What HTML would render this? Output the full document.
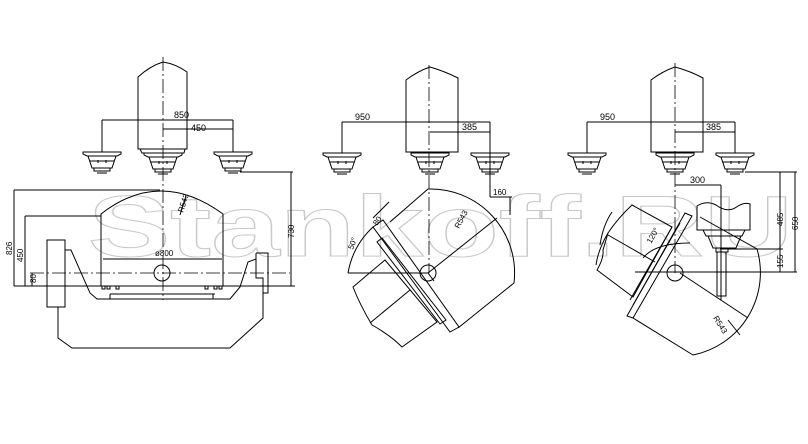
<!DOCTYPE html>
<html><head><meta charset="utf-8"><style>
html,body{margin:0;padding:0;background:#fff;}
svg{display:block;}
text{font-family:"Liberation Sans",sans-serif;font-size:9px;fill:#000;}
</style></head><body>
<svg width="808" height="444" viewBox="0 0 808 444" xmlns="http://www.w3.org/2000/svg">
<defs>
<g id="tool" fill="none" stroke="#000" stroke-width="1">
<polygon points="-19,0 19,0 19,2 15,4 -15,4 -19,2"/>
<polygon points="-14,4 14,4 10,16 -10,16"/>
<line x1="-12" y1="9" x2="12" y2="9"/>
<line x1="-4" y1="8" x2="-4" y2="11"/><line x1="4" y1="8" x2="4" y2="11"/>
<rect x="-8" y="16" width="16" height="3"/>
<line x1="-5" y1="21" x2="5" y2="21"/>
</g>
</defs>

<text x="88" y="256" textLength="705" lengthAdjust="spacingAndGlyphs" style="font-size:86px;font-weight:bold;fill:none;stroke:#c8c8c8;stroke-width:1">Stankoff.RU</text>

<g fill="none" stroke="#000" stroke-width="1">
<!-- ===== Panel 1 ===== -->
<path d="M138,149 L138,77 Q150,66 163,62 Q176,64 187,72 L187,149 Z"/>
<polygon points="140,149 185,149 184,153 142,153"/>
<use href="#tool" x="102" y="152"/>
<use href="#tool" x="163" y="153"/>
<use href="#tool" x="233" y="152"/>
<line x1="163" y1="57" x2="163" y2="300" stroke-dasharray="14,3,2,3" stroke-width="0.8"/>
<line x1="102" y1="120" x2="102" y2="152"/><line x1="233" y1="120" x2="233" y2="152"/>
<line x1="102" y1="120" x2="233" y2="120"/>
<line x1="163" y1="129" x2="233" y2="129"/>
<path d="M101,286 L101,214 Q160,168 223,214 L223,286"/>
<line x1="103" y1="259" x2="222" y2="259"/>
<circle cx="162" cy="273" r="8"/>
<line x1="30" y1="273" x2="290" y2="273" stroke-dasharray="14,3,2,3" stroke-width="0.8"/>
<line x1="14" y1="286" x2="295" y2="286"/>
<polyline points="65,250 71,250 90,293 97,299 230,299 240,287 248,262 256,259"/>
<line x1="110" y1="294" x2="215" y2="294"/><line x1="110" y1="294" x2="110" y2="299"/><line x1="213" y1="294" x2="213" y2="299"/>
<rect x="47" y="240" width="18" height="67"/>
<polyline points="58,307 58,338 72,348 230,348 263,318 263,293"/>
<polyline points="256,253 268,253 268,293 263,293 263,278 256,278 256,253"/>
<rect x="102" y="286" width="3" height="3"/><rect x="107" y="286" width="3" height="3"/><rect x="116" y="286" width="3" height="3"/>
<rect x="205" y="286" width="3" height="3"/><rect x="214" y="286" width="3" height="3"/><rect x="219" y="286" width="3" height="3"/>
<line x1="180" y1="215" x2="186" y2="196"/>
<line x1="14" y1="190" x2="160" y2="190"/><line x1="14" y1="190" x2="14" y2="286"/>
<line x1="25" y1="216" x2="101" y2="216"/><line x1="25" y1="216" x2="25" y2="286"/>
<line x1="32" y1="273" x2="32" y2="286"/>
<line x1="240" y1="172" x2="293" y2="172"/><line x1="291" y1="172" x2="291" y2="286"/>

<!-- ===== Panel 2 ===== -->
<path d="M406,152 L406,80 Q418,71 430,67 Q444,71 458,78 L458,152 Z"/>
<use href="#tool" x="342" y="153"/>
<use href="#tool" x="430" y="153"/>
<use href="#tool" x="490" y="153"/>
<line x1="429" y1="65" x2="429" y2="273" stroke-dasharray="14,3,2,3" stroke-width="0.8"/>
<line x1="342" y1="122" x2="342" y2="153"/><line x1="490" y1="122" x2="490" y2="153"/>
<line x1="342" y1="122" x2="490" y2="122"/>
<line x1="430" y1="132" x2="490" y2="132"/>
<path d="M428,189 A84,84 0 0 1 514,283 L458,328"/>
<path d="M348,273 A82,82 0 0 1 373,227"/>
<line x1="428" y1="189" x2="390" y2="222"/>
<line x1="348" y1="273" x2="428" y2="273"/>
<circle cx="428" cy="273" r="8"/>
<line x1="428" y1="273" x2="497" y2="218"/>
<line x1="428" y1="273" x2="434" y2="281"/>
<polygon points="373,227 383,220 459,327 450,332"/>
<polygon points="377,242 382,238 446,320 440,324"/>
<path d="M353,287 L385,260 L437,322 L402,347 Q390,335 372,325 Q360,305 353,287 Z"/>
<line x1="370" y1="323" x2="410" y2="290"/>
<line x1="373" y1="218" x2="389" y2="202"/>
<line x1="490" y1="153" x2="490" y2="197"/><line x1="490" y1="197" x2="512" y2="197"/><line x1="510" y1="197" x2="510" y2="215"/>

<!-- ===== Panel 3 ===== -->
<path d="M651,152 L651,80 Q663,71 675,67 Q690,71 703,78 L703,152 Z"/>
<use href="#tool" x="587" y="153"/>
<use href="#tool" x="675" y="153"/>
<use href="#tool" x="735" y="153"/>
<line x1="675" y1="63" x2="675" y2="273" stroke-dasharray="14,3,2,3" stroke-width="0.8"/>
<line x1="587" y1="122" x2="587" y2="153"/><line x1="735" y1="122" x2="735" y2="153"/>
<line x1="587" y1="122" x2="735" y2="122"/>
<line x1="675" y1="132" x2="735" y2="132"/>
<line x1="675" y1="185" x2="721" y2="185"/><line x1="721" y1="185" x2="721" y2="300"/>
<path d="M697,230 L697,206 Q706,200 716,205 Q728,214 738,206 Q745,202 750,204 L750,230 Z"/>
<polygon points="703,230 745,230 742,236 706,236"/>
<polygon points="708,236 741,236 736,248 713,248"/>
<rect x="716" y="248" width="12" height="4"/>
<rect x="717" y="252" width="9" height="44"/>
<!-- rotating body 3 -->
<path d="M700,217 L757,249 A84,84 0 0 1 693,355 L633,318"/>
<polygon points="685,213 692,216 633,318 627,316"/>
<line x1="680" y1="223" x2="633" y2="305"/>
<line x1="672" y1="227" x2="630" y2="300"/>
<path d="M632,205 L672,227 L633,297 L597,270 Q604,258 603,250 Q606,240 608,233 Q618,218 632,205 Z"/>
<path d="M608,233 Q598,250 596,265"/>
<path d="M612,212 Q603,225 600,245"/>
<line x1="608" y1="235" x2="655" y2="262"/>
<path d="M643,258 Q655,243 690,243"/>
<circle cx="675" cy="273" r="8"/>
<line x1="635" y1="272" x2="797" y2="272"/>
<line x1="680" y1="273" x2="748" y2="318"/>
<line x1="728" y1="320" x2="740" y2="335"/>
<line x1="720" y1="249" x2="783" y2="249"/>
<line x1="745" y1="172" x2="797" y2="172"/>
<line x1="780" y1="172" x2="780" y2="272"/>
<line x1="795" y1="172" x2="795" y2="272"/>
</g>

<g>
<text x="174" y="118">850</text>
<text x="191" y="131">450</text>
<text x="155" y="256" style="font-size:8px">ø800</text>
<text transform="translate(183,213) rotate(-72)" style="font-size:8px">R543</text>
<text transform="translate(12,255) rotate(-90)" style="font-size:8px">826</text>
<text transform="translate(23,262) rotate(-90)" style="font-size:8px">450</text>
<text transform="translate(36,283) rotate(-90)" style="font-size:8px">80</text>
<text transform="translate(294,238) rotate(-90)" style="font-size:8px">730</text>

<text x="355" y="120">950</text>
<text x="462" y="130">385</text>
<text x="493" y="195" style="font-size:8px">160</text>
<text transform="translate(377,226) rotate(-55)" style="font-size:8px">80</text>
<text transform="translate(353,250) rotate(-70)" style="font-size:8px">50°</text>
<text transform="translate(459,229) rotate(-62)" style="font-size:8px">R543</text>

<text x="600" y="120">950</text>
<text x="706" y="130">385</text>
<text x="690" y="183">300</text>
<text transform="translate(783,226) rotate(-90)" style="font-size:8px">485</text>
<text transform="translate(798,230) rotate(-90)" style="font-size:8px">650</text>
<text transform="translate(783,268) rotate(-90)" style="font-size:8px">155</text>
<text transform="translate(651,244) rotate(-60)" style="font-size:8px">120°</text>
<text transform="translate(713,318) rotate(58)" style="font-size:8px">R543</text>
</g>
</svg>
</body></html>
